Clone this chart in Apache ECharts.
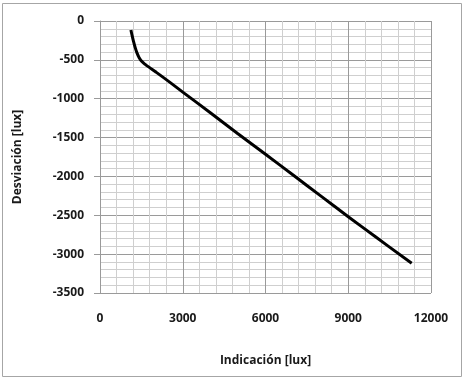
<!DOCTYPE html>
<html>
<head>
<meta charset="utf-8">
<script src="https://cdn.jsdelivr.net/npm/echarts@6/dist/echarts.min.js"></script>
<style>
html,body{margin:0;padding:0;background:#fff;}
#chart{width:465px;height:378px;}
</style>
</head>
<body>
<div id="chart"></div>
<script>
// valores
var indicacion = [1120, 1160, 1210, 1270, 1340, 1420, 1520, 1650, 1800, 2000, 2500, 3000, 4000, 5000, 6000, 7000, 8000, 9000, 10000, 11300];
var desviacion = [-115, -180, -255, -335, -410, -472, -522, -562, -600, -650, -780, -915, -1180, -1450, -1715, -1982, -2250, -2518, -2780, -3118];
var xTicks = [0, 3000, 6000, 9000, 12000];
var yTicks = [0, -500, -1000, -1500, -2000, -2500, -3000, -3500];

var puntos = indicacion.map(function (x, i) { return [x, desviacion[i]]; });
var fuente = '"Open Sans", Lato, sans-serif';

var myChart = echarts.init(document.getElementById('chart'));
var option = {
    backgroundColor: '#fff',
    animation: false,
    graphic: [{
        type: 'rect',
        shape: {x: 2.5, y: 3.5, width: 459, height: 373},
        style: {fill: 'none', stroke: '#a6a6a6', lineWidth: 1}
    }],
    grid: {left: 100, right: 34, top: 21, bottom: 85},
    xAxis: {
        type: 'value',
        min: xTicks[0],
        max: xTicks[xTicks.length - 1],
        interval: 3000,
        name: 'Indicación [lux]',
        nameLocation: 'middle',
        nameGap: 62,
        nameTextStyle: {fontFamily: fuente, fontWeight: 'bold', fontSize: 12, color: '#1a1a1a'},
        axisLine: {show: false},
        axisTick: {show: false},
        axisLabel: {margin: 20, fontFamily: fuente, fontWeight: 'bold', fontSize: 12, color: '#1a1a1a',
            formatter: function (v) { return String(v); }},
        splitLine: {show: true, lineStyle: {color: '#9a9a9a', width: 1}},
        minorTick: {show: false, splitNumber: 5},
        minorSplitLine: {show: true, lineStyle: {color: '#cfcfcf', width: 1}}
    },
    yAxis: {
        type: 'value',
        min: yTicks[yTicks.length - 1],
        max: yTicks[0],
        interval: 500,
        name: 'Desviación [lux]',
        nameLocation: 'middle',
        nameGap: 76,
        nameTextStyle: {fontFamily: fuente, fontWeight: 'bold', fontSize: 12, color: '#1a1a1a'},
        axisLine: {show: true, lineStyle: {color: '#9a9a9a'}},
        axisTick: {show: true, length: 6, lineStyle: {color: '#9a9a9a'}},
        axisLabel: {margin: 16, fontFamily: fuente, fontWeight: 'bold', fontSize: 12, color: '#1a1a1a',
            formatter: function (v) { return String(v); }},
        splitLine: {show: true, lineStyle: {color: '#9a9a9a', width: 1}},
        minorTick: {show: false, splitNumber: 5},
        minorSplitLine: {show: true, lineStyle: {color: '#cfcfcf', width: 1}}
    },
    series: [{
        type: 'line',
        data: puntos,
        smooth: 0.4,
        showSymbol: false,
        lineStyle: {color: '#000', width: 3}
    }]
};
myChart.setOption(option);
</script>
</body>
</html>
